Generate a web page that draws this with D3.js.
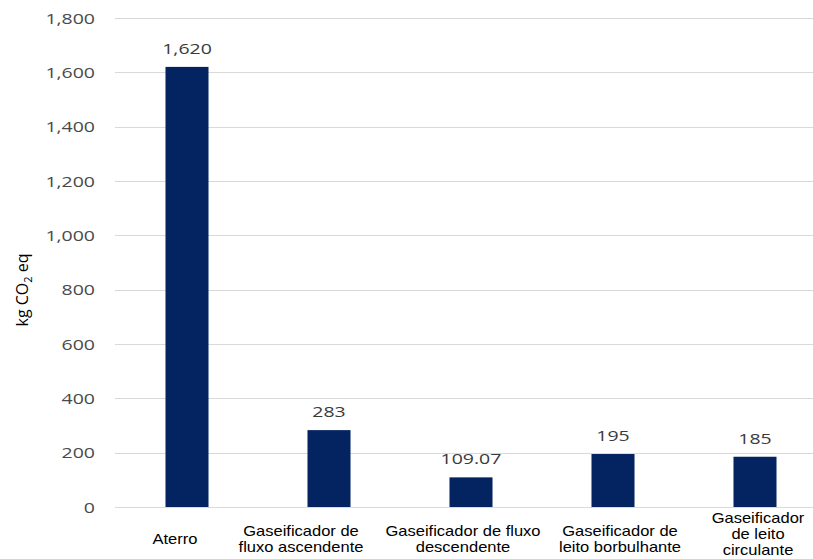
<!DOCTYPE html>
<html><head><meta charset="utf-8">
<script src="https://cdn.jsdelivr.net/npm/d3@7"></script>
<style>html,body{margin:0;padding:0;background:#fff;}</style>
</head><body>
<svg id="c" width="813" height="559"></svg>
<script>
const categories = ["Aterro","Gaseificador de fluxo ascendente","Gaseificador de fluxo descendente","Gaseificador de leito borbulhante","Gaseificador de leito circulante"];
const categoryLines = [["Aterro"],["Gaseificador de","fluxo ascendente"],["Gaseificador de fluxo","descendente"],["Gaseificador de","leito borbulhante"],["Gaseificador","de leito","circulante"]];
const values = [1620, 283, 109.07, 195, 185];
const valueLabels = ["1,620","283","109.07","195","185"];
const yTicks = [0,200,400,600,800,1000,1200,1400,1600,1800];
const yTickLabels = ["0","200","400","600","800","1,000","1,200","1,400","1,600","1,800"];

// layout: horizontal nudge of each category label (px), as in the reference
const labelNudge = [-12, -28, -8, 7, 3];

const svg = d3.select("#c");
const x = d3.scaleBand().domain(categories).range([116, 826]).paddingInner(0.697).paddingOuter(0.3485);
const y = d3.scaleLinear().domain([0,1800]).range([507, 18]);

// gridlines
svg.append("g").selectAll("line").data(yTicks).join("line")
  .attr("x1",115).attr("x2",813)
  .attr("y1",d=>Math.round(y(d))+0.5).attr("y2",d=>Math.round(y(d))+0.5)
  .attr("stroke","#d9d9d9").attr("stroke-width",1);

// y tick labels
svg.append("g").selectAll("g").data(yTicks).join("g")
  .attr("transform",(d)=>`translate(95,${y(d)+5.5}) scale(1.3,1)`)
  .append("text").attr("text-anchor","end")
  .attr("font-family","'Open Sans', sans-serif").attr("font-size",15).attr("font-weight",500)
  .attr("fill","#4a4a4a").text((d,i)=>yTickLabels[i]);

// bars
svg.append("g").selectAll("rect").data(values).join("rect")
  .attr("x",(d,i)=>x(categories[i])).attr("width",x.bandwidth())
  .attr("y",d=>y(d)).attr("height",d=>y(0)-y(d))
  .attr("fill","#042361");

// value labels
svg.append("g").selectAll("g").data(values).join("g")
  .attr("transform",(d,i)=>`translate(${x(categories[i])+x.bandwidth()/2},${y(d)-13}) scale(1.3,1)`)
  .append("text").attr("text-anchor","middle")
  .attr("font-family","'Open Sans', sans-serif").attr("font-size",15).attr("font-weight",500)
  .attr("fill","#3a3a3a").text((d,i)=>valueLabels[i]);

// category labels
const cg = svg.append("g").selectAll("g").data(categoryLines).join("g")
  .attr("transform",(d,i)=>`translate(${x(categories[i])+x.bandwidth()/2+labelNudge[i]},${539 - (d.length-1)*8 + 5 - (d.length>2?5:0)}) scale(1.18,1)`);
cg.each(function(lines){
  const t = d3.select(this).append("text").attr("text-anchor","middle")
    .attr("font-family","'Liberation Sans', Arial, sans-serif").attr("font-size",14).attr("fill","#000");
  lines.forEach((l,j)=>t.append("tspan").attr("x",0).attr("y",j*16).text(l));
});

// axis title
const at = svg.append("text")
  .attr("transform","translate(28,290) rotate(-90)")
  .attr("text-anchor","middle")
  .attr("font-family","'Open Sans', sans-serif").attr("font-size",16).attr("fill","#000");
at.append("tspan").text("kg CO");
at.append("tspan").attr("font-size",11).attr("dy",4).text("2");
at.append("tspan").attr("dy",-4).text(" eq");
</script>
</body></html>
